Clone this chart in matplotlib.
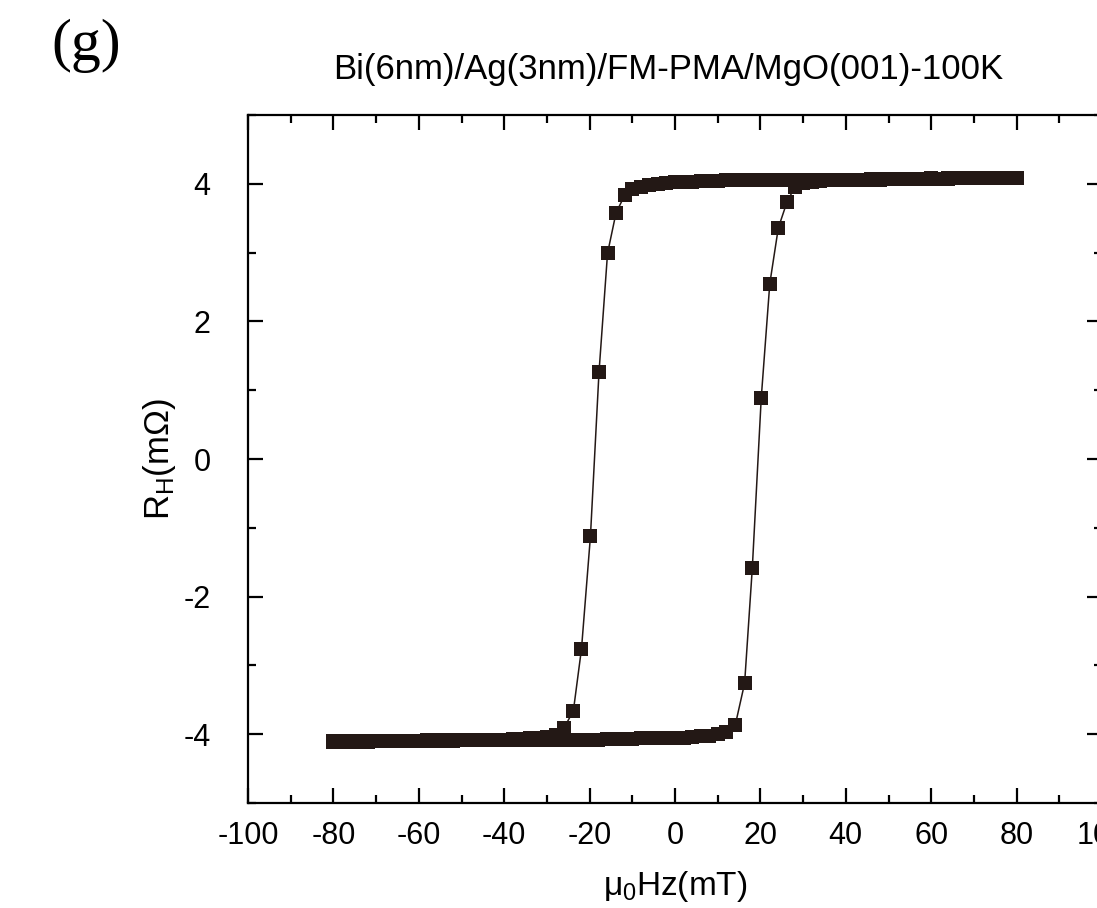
import matplotlib
matplotlib.use("Agg")
import matplotlib.pyplot as plt
from matplotlib.ticker import MultipleLocator

# hysteresis loop, values
# sweep from +80 mT down to -80 mT
field_down = [80, 78, 76, 74, 72, 70, 68, 66, 64, 62, 60, 58, 56, 54, 52, 50,
              48, 46, 44, 42, 40, 38, 36, 34, 32, 30, 28, 26, 24, 22, 20, 18,
              16, 14, 12, 10, 8, 6, 4, 2, 0, -2, -4, -6, -8, -10, -11.8, -13.8,
              -15.8, -17.8, -19.8, -21.9, -23.8, -26.0, -27.9, -30, -32, -34,
              -36, -38, -40, -42, -44, -46, -48, -50, -52, -54, -56, -58, -60,
              -62, -64, -66, -68, -70, -72, -74, -76, -78, -80]
rh_down = [4.08, 4.08, 4.09, 4.08, 4.08, 4.08, 4.08, 4.08, 4.08, 4.07, 4.08,
           4.07, 4.07, 4.07, 4.07, 4.07, 4.07, 4.07, 4.06, 4.06, 4.06, 4.06,
           4.06, 4.06, 4.06, 4.06, 4.06, 4.06, 4.05, 4.05, 4.05, 4.05, 4.05,
           4.05, 4.05, 4.04, 4.04, 4.04, 4.03, 4.03, 4.02, 4.01, 4.00, 3.98,
           3.96, 3.93, 3.83, 3.58, 2.99, 1.26, -1.12, -2.76, -3.66, -3.91,
           -4.01, -4.04, -4.06, -4.06, -4.07, -4.07, -4.08, -4.08, -4.08,
           -4.08, -4.09, -4.09, -4.09, -4.09, -4.09, -4.09, -4.10, -4.10,
           -4.10, -4.10, -4.10, -4.10, -4.10, -4.10, -4.10, -4.10, -4.10]

# sweep from -80 mT up to +80 mT
field_up = [-80, -78, -76, -74, -72, -70, -68, -66, -64, -62, -60, -58, -56,
            -54, -52, -50, -48, -46, -44, -42, -40, -38, -36, -34, -32, -30,
            -28, -26, -24, -22, -20, -18, -16, -14, -12, -10, -8, -6, -4, -2,
            0, 2, 4, 6, 8, 10, 12, 14.1, 16.3, 18.1, 20.2, 22.2, 24.2, 26.2,
            28.1, 30, 32, 34, 36, 38, 40, 42, 44, 46, 48, 50, 52, 54, 56, 58,
            60, 62, 64, 66, 68, 70, 72, 74, 76, 78, 80]
rh_up = [-4.11, -4.11, -4.11, -4.11, -4.11, -4.10, -4.10, -4.10, -4.10,
         -4.10, -4.10, -4.10, -4.10, -4.10, -4.10, -4.09, -4.09, -4.09, -4.09,
         -4.09, -4.09, -4.09, -4.09, -4.09, -4.09, -4.09, -4.08, -4.08, -4.08,
         -4.08, -4.08, -4.08, -4.07, -4.07, -4.07, -4.07, -4.06, -4.06, -4.06,
         -4.05, -4.05, -4.05, -4.04, -4.03, -4.02, -4.00, -3.97, -3.87, -3.26,
         -1.59, 0.89, 2.55, 3.36, 3.73, 3.96, 4.01, 4.03, 4.04, 4.05, 4.05,
         4.06, 4.06, 4.06, 4.06, 4.06, 4.07, 4.07, 4.07, 4.07, 4.07, 4.07,
         4.07, 4.07, 4.08, 4.08, 4.08, 4.08, 4.08, 4.08, 4.08, 4.08]

x_ticks = [-100, -80, -60, -40, -20, 0, 20, 40, 60, 80, 100]
y_ticks = [-4, -2, 0, 2, 4]

title = "Bi(6nm)/Ag(3nm)/FM-PMA/MgO(001)-100K"
panel = "(g)"

sans = "Liberation Sans"
plt.rcParams["font.family"] = [sans, "DejaVu Sans"]
plt.rcParams["mathtext.fontset"] = "custom"
plt.rcParams["mathtext.rm"] = sans
plt.rcParams["mathtext.it"] = sans
plt.rcParams["axes.unicode_minus"] = False

W, H = 1097, 908
fig = plt.figure(figsize=(W / 100, H / 100), dpi=100)
ax = fig.add_axes([248 / W, 1 - 803 / H, (1102 - 248) / W, (803 - 115) / H])

ink = "#231815"
for xs, ys in [(field_down, rh_down), (field_up, rh_up)]:
    ax.plot(xs, ys, "-", color=ink, lw=1.1, zorder=2)
    ax.plot(xs, ys, "s", color=ink, ms=10.5, mew=0, zorder=3)

ax.set_xlim(-100, 100)
ax.set_ylim(-5, 5)
ax.set_xticks(x_ticks)
ax.set_yticks(y_ticks)
ax.xaxis.set_minor_locator(MultipleLocator(10))
ax.yaxis.set_minor_locator(MultipleLocator(1))
ax.tick_params(which="both", direction="in", top=True, right=True,
               width=1.6, color="black", labelsize=22)
ax.tick_params(which="major", length=11)
ax.tick_params(which="minor", length=5.5)
ax.tick_params(axis="x", which="major", pad=13)
ax.tick_params(axis="y", which="major", pad=27)
for sp in ax.spines.values():
    sp.set_linewidth(1.6)

fig.text(668 / W, 1 - 70 / H, title, ha="center", va="center", fontsize=25)
fig.text(86 / W, 1 - 46 / H, panel, ha="center", va="center", fontsize=43,
         family="Liberation Serif")
fig.text(675 / W, 1 - 886 / H, r"$\mu_0$Hz(mT)", ha="center", va="center",
         fontsize=24)
fig.text(160 / W, 1 - 459 / H, r"R$_\mathrm{H}$(m$\Omega$)", ha="center",
         va="center", rotation=90, fontsize=25)

fig.savefig("out.png", dpi=100)
